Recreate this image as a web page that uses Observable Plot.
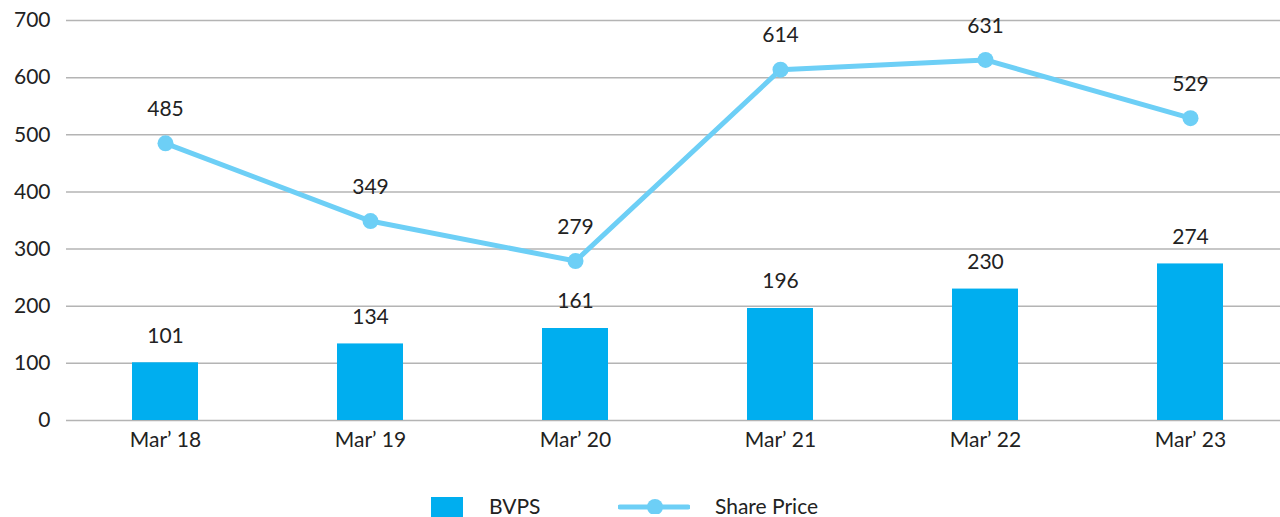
<!DOCTYPE html>
<html>
<head>
<meta charset="utf-8">
<script src="https://cdn.jsdelivr.net/npm/d3@7"></script>
<script src="https://cdn.jsdelivr.net/npm/@observablehq/plot@0.6"></script>
<style>
  html, body { margin: 0; padding: 0; background: #fff; overflow: hidden; }
  #wrap { position: relative; width: 1280px; height: 517px; font-family: Lato, "Open Sans", sans-serif; }
  #legend { position: absolute; left: 0; top: 480px; width: 1280px; height: 37px; }
  .li { position: absolute; font-size: 21px; color: #222; }
</style>
</head>
<body>
<div id="wrap">
  <div id="chart"></div>
  <div id="legend">
    <div style="position:absolute;left:431px;top:17px;width:32px;height:22px;background:#00aeef"></div>
    <div class="li" style="left:489px;top:13px">BVPS</div>
    <svg style="position:absolute;left:618px;top:14px" width="72" height="20">
      <line x1="2" y1="13" x2="70" y2="13" stroke="#6dcff6" stroke-width="5" stroke-linecap="round"/>
      <circle cx="37" cy="13" r="8" fill="#6dcff6"/>
    </svg>
    <div class="li" style="left:715px;top:13px">Share Price</div>
  </div>
</div>
<script>
const years = ["Mar’ 18", "Mar’ 19", "Mar’ 20", "Mar’ 21", "Mar’ 22", "Mar’ 23"];
const bvps = [101, 134, 161, 196, 230, 274];
const sharePrice = [485, 349, 279, 614, 631, 529];
const yTicks = [0, 100, 200, 300, 400, 500, 600, 700];

const rows = years.map((y, i) => ({year: y, bvps: bvps[i], price: sharePrice[i]}));

const chart = Plot.plot({
  width: 1280,
  height: 480,
  marginTop: 20,
  marginBottom: 60,
  marginLeft: 66,
  marginRight: 0,
  style: {fontFamily: "Lato, 'Open Sans', sans-serif", fontSize: "21px", color: "#222", background: "#fff"},
  x: {domain: years, range: [62.5, 1292.5], paddingInner: 0.678, paddingOuter: 0.339, label: null},
  y: {domain: [0, 700], label: null},
  marks: [
    Plot.ruleY(yTicks, {stroke: "#b4b4b4", strokeWidth: 1.5}),
    Plot.axisY(yTicks, {tickSize: 0, tickPadding: 16, label: null, fontSize: 21, fill: "#222"}),
    Plot.axisX({tickSize: 0, tickPadding: 12, label: null, fontSize: 21, fill: "#222"}),
    Plot.barY(rows, {x: "year", y: "bvps", fill: "#00aeef"}),
    Plot.text(rows, {x: "year", y: "bvps", text: d => String(d.bvps), dy: -27, fontSize: 21, fill: "#222"}),
    Plot.line(rows, {x: "year", y: "price", stroke: "#6dcff6", strokeWidth: 5}),
    Plot.dot(rows, {x: "year", y: "price", r: 8, fill: "#6dcff6"}),
    Plot.text(rows, {x: "year", y: "price", text: d => String(d.price), dy: -34, fontSize: 21, fill: "#222"})
  ]
});
document.getElementById("chart").appendChild(chart);
</script>
</body>
</html>
